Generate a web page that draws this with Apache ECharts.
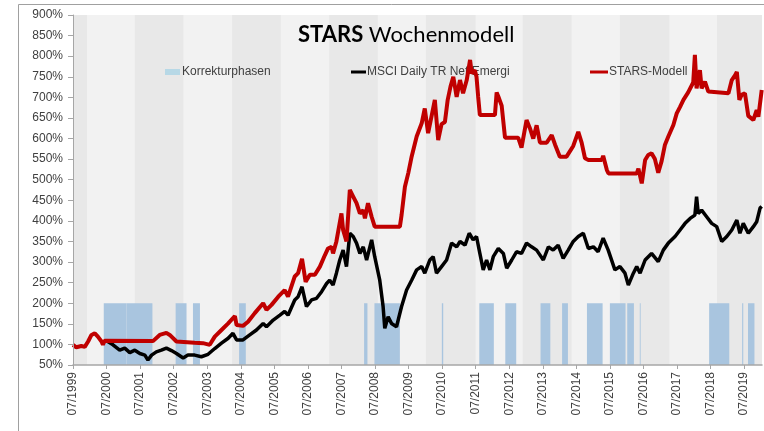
<!DOCTYPE html>
<html>
<head>
<meta charset="utf-8">
<script src="https://cdn.jsdelivr.net/npm/echarts@6/dist/echarts.min.js"></script>
<style>
  html, body { margin: 0; padding: 0; background: #fff; }
  #chart { width: 764px; height: 431px; }
</style>
</head>
<body>
<div id="chart"></div>
<script>
// x values are months counted from 07/1999
const startYear = 1999;
const monthMax = 246.4;

// darker background phases [from, to]
const shadeRanges = [
  [0, 5], [22.1, 39.5], [56.9, 74.3], [91.6, 109], [126.2, 144],
  [160.8, 178.3], [195.6, 213.3], [230.3, 246.4]
];

// Korrekturphasen [from, to]
const correctionRanges = [
  [11.0, 19.1], [19.1, 28.4], [36.7, 40.6], [42.9, 45.4], [59.4, 61.8],
  [104.1, 105.3], [107.8, 116.9], [131.9, 132.4], [145.3, 150.5],
  [154.6, 158.5], [167.2, 170.7], [174.9, 177.0], [183.8, 189.4],
  [192.0, 197.6], [198.2, 200.6], [202.7, 203.0], [227.5, 234.7],
  [239.3, 239.7], [241.4, 243.7]
];

const starsMonths = [
  0, 1.2, 3.0, 4.2, 5.4, 6.6, 7.8, 8.9, 10.2, 10.7, 11.3, 28.6, 29.2, 31.0, 33.4, 34.6, 37.0,
  43.5, 46.5, 48.9, 50.7, 53.1, 55.5, 57.9, 58.5, 60.8, 62.6, 65.0, 68.0, 69.2, 71.0, 73.4,
  75.7, 76.9, 79.3, 80.5, 81.9, 83.2, 84.7, 86.5, 88.3, 90.1, 91.2, 92.5, 93.0, 94.2, 96.0,
  96.6, 97.8, 99.0, 100.2, 101.4, 102.6, 103.8, 104.4, 105.5, 106.8, 107.9, 116.9, 117.5,
  118.7, 119.9, 121.1, 122.9, 124.7, 125.8, 127.0, 128.2, 129.4, 130.6, 131.8, 133.0, 134.0,
  135.0, 136.0, 137.2, 138.4, 139.5, 140.8, 142.0, 142.6, 143.7, 144.3, 144.9, 145.5, 150.9,
  151.5, 152.1, 153.3, 154.5, 159.2, 160.4, 162.2, 163.4, 164.6, 165.8, 167.0, 169.4, 171.2,
  172.4, 174.1, 176.5, 178.9, 180.7, 181.9, 183.1, 184.3, 189.1, 189.6, 190.9, 191.5, 201.6,
  202.2, 203.4, 204.6, 205.7, 206.9, 208.1, 209.3, 210.5, 211.7, 212.9, 214.7, 215.9, 217.1,
  218.3, 220.0, 221.8, 222.4, 223.0, 224.2, 224.8, 226.0, 227.2, 227.8, 234.4, 235.6, 236.8,
  237.4, 238.3, 239.1, 240.3, 241.5, 243.3, 244.5, 245.1, 246.3
];
const starsValues = [
  99, 93, 96, 94, 107, 123, 127, 119, 107, 99, 109, 108, 112, 123, 128, 123, 107,
  104, 103, 99, 119, 135, 151, 169, 147, 145, 155, 176, 200, 184, 196, 216,
  232, 216, 265, 273, 308, 252, 269, 269, 289, 317, 333, 337, 321, 350, 418,
  378, 350, 475, 459, 443, 418, 426, 406, 443, 410, 386, 386, 414,
  483, 516, 556, 605, 637, 673, 613, 653, 694, 596, 635, 640, 694,
  726, 750, 701, 742, 710, 742, 791, 758, 766, 750, 701, 657, 657,
  712, 702, 680, 602, 602, 578, 645, 625, 600, 632, 590, 590, 608,
  585, 556, 556, 582, 616, 590, 552, 548, 548, 558, 524, 515, 515,
  527, 491, 548, 560, 564, 550, 517, 545, 585, 605, 633, 661, 677,
  694, 712, 736, 803, 722, 766, 722, 738, 714, 710, 710, 742, 754,
  762, 694, 706, 710, 655, 645, 669, 653, 718
];

const msciMonths = [
  12.0, 14.3, 16.7, 18.5, 20.3, 22.1, 23.9, 25.7, 26.8, 28.1, 29.8, 31.6, 33.4, 35.2, 37.0,
  39.4, 41.1, 43.5, 45.9, 48.3, 50.7, 53.1, 55.5, 57.2, 58.5, 60.8, 63.2, 65.6, 68.0, 69.2,
  71.6, 74.0, 75.7, 76.9, 79.3, 80.5, 81.9, 83.5, 85.3, 87.1, 88.9, 90.7, 91.8, 93.0, 94.2,
  95.4, 96.6, 97.8, 99.0, 100.2, 101.4, 102.6, 103.8, 105.0, 106.8, 107.9, 109.7, 110.9,
  111.5, 112.7, 113.9, 115.7, 117.5, 119.3, 121.1, 122.9, 124.7, 125.8, 127.6, 128.8, 130.0,
  131.8, 133.6, 135.4, 137.2, 138.4, 140.2, 141.7, 143.1, 144.3, 145.5, 146.7, 147.9, 149.1,
  150.3, 152.1, 153.9, 155.1, 156.9, 158.6, 160.4, 162.2, 164.0, 165.8, 168.2, 170.0, 171.7,
  173.5, 175.3, 177.1, 178.9, 180.7, 182.5, 184.3, 186.1, 187.8, 189.6, 191.4, 193.8, 195.6,
  197.4, 198.6, 200.4, 201.6, 202.8, 204.6, 206.9, 209.3, 211.1, 212.9, 215.3, 217.1, 218.9,
  220.7, 222.4, 223.0, 223.6, 224.8, 226.6, 228.4, 230.2, 232.0, 233.8, 235.6, 237.4, 238.5,
  239.7, 241.5, 243.3, 244.5, 245.7, 246.3
];
const msciValues = [
  109, 99, 86, 91, 80, 86, 78, 74, 62, 74, 82, 86, 91, 85, 78,
  67, 74, 74, 70, 76, 90, 103, 115, 127, 111, 111, 123, 135, 151, 143,
  159, 171, 180, 171, 208, 216, 240, 192, 208, 212, 228, 248, 256, 244, 273,
  305, 329, 289, 370, 362, 346, 321, 337, 305, 354, 313, 256, 192,
  139, 167, 151, 143, 192, 232, 256, 281, 289, 273, 305, 313, 273,
  289, 305, 346, 337, 350, 341, 370, 354, 362, 321, 281, 305, 281,
  313, 333, 321, 285, 305, 325, 321, 346, 337, 329, 305, 337, 329,
  341, 309, 329, 350, 362, 370, 333, 337, 325, 358, 329, 281, 289,
  273, 244, 273, 289, 273, 305, 321, 301, 329, 346, 362, 378, 394,
  406, 414, 459, 418, 426, 410, 394, 386, 350, 362, 378, 402, 370,
  394, 370, 386, 398, 431, 435
];

const textColor = '#404040';
const axisColor = '#a6a6a6';
const legendText = { fontFamily: 'Liberation Sans', fontSize: 12, color: textColor, padding: [0, 0, 0, -4] };

function rangeRenderer(low, high, fill) {
  return function (params, api) {
    const a = api.coord([api.value(0), high]);
    const b = api.coord([api.value(1), low]);
    return {
      type: 'rect',
      shape: { x: a[0], y: a[1], width: b[0] - a[0], height: b[1] - a[1] },
      style: { fill: fill }
    };
  };
}

const chart = echarts.init(document.getElementById('chart'));

chart.setOption({
  animation: false,
  backgroundColor: '#fff',
  title: {
    text: '{b|STARS} Wochenmodell',
    left: 293,
    top: 19,
    textStyle: {
      fontFamily: 'Lato',
      fontSize: 22,
      fontWeight: 'normal',
      color: '#000',
      rich: { b: { fontFamily: 'Lato', fontSize: 22, fontWeight: 'bold', color: '#000' } }
    }
  },
  graphic: [{
    type: 'rect',
    silent: true,
    z: -10,
    shape: { x: 18.5, y: 4.5, width: 900, height: 600 },
    style: { fill: 'none', stroke: '#a0a0a0', lineWidth: 1 }
  }],
  legend: [
    {
      data: [{ name: 'Korrekturphasen', icon: 'rect' }],
      left: 160, top: 61, itemWidth: 15, itemHeight: 6, z: 3,
      textStyle: Object.assign({}, legendText, { padding: [0, 0, 0, -3] })
    },
    {
      data: [{ name: 'MSCI Daily TR Net Emergi', icon: 'rect' }],
      left: 346, top: 61, itemWidth: 15, itemHeight: 3, z: 3,
      textStyle: legendText
    },
    {
      data: [{ name: 'STARS-Modell', icon: 'rect' }],
      left: 585, top: 61, itemWidth: 18, itemHeight: 3, z: 3,
      textStyle: legendText
    }
  ],
  grid: {
    left: 73, right: 2, top: 15, bottom: 66,
    show: true, backgroundColor: '#f2f2f2', borderWidth: 0
  },
  xAxis: {
    type: 'value',
    min: 0,
    max: monthMax,
    interval: 12,
    z: 10,
    axisLine: { lineStyle: { color: axisColor, width: 1.5 } },
    axisTick: { show: true, length: 4, lineStyle: { color: axisColor } },
    splitLine: { show: false },
    axisLabel: {
      rotate: 90,
      margin: 7,
      fontFamily: 'Liberation Sans',
      fontSize: 12,
      color: textColor,
      showMaxLabel: false,
      formatter: function (v) {
        if (Math.abs(v % 12) > 0.001) return '';
        return '07/' + (startYear + Math.round(v / 12));
      }
    }
  },
  yAxis: {
    type: 'value',
    min: 50,
    max: 900,
    interval: 50,
    z: 10,
    axisLine: { show: true, lineStyle: { color: axisColor, width: 1 } },
    axisTick: { show: true, length: 5, lineStyle: { color: axisColor } },
    splitLine: { show: false },
    axisLabel: {
      margin: 10,
      fontFamily: 'Liberation Sans',
      fontSize: 12,
      color: textColor,
      formatter: function (v) { return v + '%'; }
    }
  },
  series: [
    {
      name: 'phases',
      type: 'custom',
      silent: true,
      z: 1,
      renderItem: rangeRenderer(50, 900, '#e8e8e8'),
      encode: { x: [0, 1] },
      data: shadeRanges
    },
    {
      name: 'Korrekturphasen',
      type: 'custom',
      z: 2,
      itemStyle: { color: '#b7d8e6' },
      renderItem: rangeRenderer(50, 200, '#a9c5df'),
      encode: { x: [0, 1] },
      data: correctionRanges
    },
    {
      name: 'MSCI Daily TR Net Emergi',
      type: 'line',
      z: 5,
      symbol: 'none',
      color: '#000000',
      lineStyle: { color: '#000000', width: 3.5 },
      data: msciMonths.map((m, i) => [m, msciValues[i]])
    },
    {
      name: 'STARS-Modell',
      type: 'line',
      z: 6,
      symbol: 'none',
      color: '#c00000',
      lineStyle: { color: '#c00000', width: 4 },
      data: starsMonths.map((m, i) => [m, starsValues[i]])
    }
  ]
});
</script>
</body>
</html>
